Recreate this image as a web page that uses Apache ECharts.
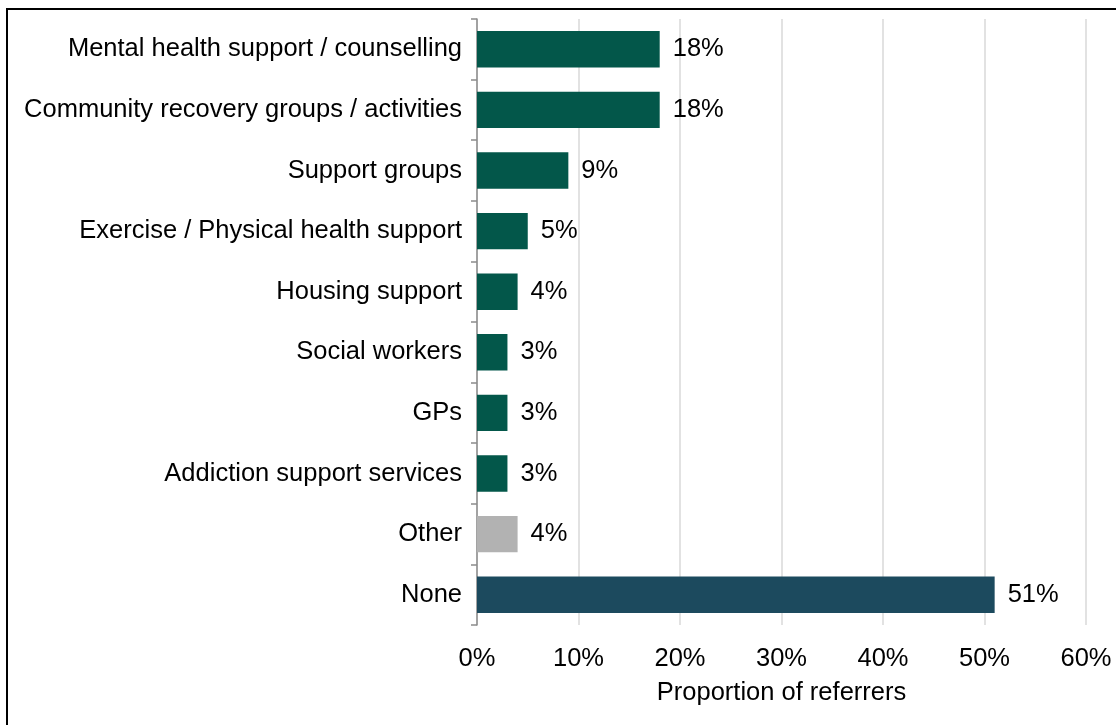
<!DOCTYPE html>
<html>
<head>
<meta charset="utf-8">
<script src="https://cdn.jsdelivr.net/npm/echarts@6/dist/echarts.min.js"></script>
<style>
  html, body { margin: 0; padding: 0; background: #ffffff; }
  #chart { width: 1116px; height: 725px; }
</style>
</head>
<body>
<div id="chart"></div>
<script>
// Services that referrers signposted people to, share of referrers (%)
const categories = [
  'Mental health support / counselling',
  'Community recovery groups / activities',
  'Support groups',
  'Exercise / Physical health support',
  'Housing support',
  'Social workers',
  'GPs',
  'Addiction support services',
  'Other',
  'None'
];
const values = [18, 18, 9, 5, 4, 3, 3, 3, 4, 51];
const barColors = ['#03574A', '#03574A', '#03574A', '#03574A', '#03574A',
                   '#03574A', '#03574A', '#03574A', '#B2B2B2', '#1C4A5E'];
const axisTitle = 'Proportion of referrers';

const font = '"Liberation Sans", Arial, sans-serif';
const fs = 25.5;
const chart = echarts.init(document.getElementById('chart'), null, { renderer: 'canvas' });

chart.setOption({
  animation: false,
  backgroundColor: '#ffffff',
  textStyle: { fontFamily: font },
  graphic: [{
    type: 'rect',
    shape: { x: 7, y: 9, width: 1200, height: 800 },
    style: { fill: 'none', stroke: '#000000', lineWidth: 2 },
    silent: true
  }],
  grid: { left: 477, right: 30, top: 19, bottom: 100, containLabel: false },
  xAxis: {
    type: 'value',
    min: 0,
    max: 60,
    interval: 10,
    name: axisTitle,
    nameLocation: 'middle',
    nameGap: 55,
    nameTextStyle: { fontSize: fs, color: '#000000', fontFamily: font },
    axisLine: { show: false },
    axisTick: { show: false },
    axisLabel: { formatter: '{value}%', fontSize: fs, color: '#000000', margin: 21, fontFamily: font },
    splitLine: { lineStyle: { color: '#D9D9D9', width: 1.5 } }
  },
  yAxis: {
    type: 'category',
    inverse: true,
    data: categories,
    axisLine: { show: true, lineStyle: { color: '#8C8C8C', width: 1.5 } },
    axisTick: { show: true, length: 6, lineStyle: { color: '#8C8C8C', width: 1.5 } },
    axisLabel: { fontSize: fs, color: '#000000', margin: 15, fontFamily: font, padding: [3, 0, 0, 0] },
    splitLine: { show: false }
  },
  series: [{
    type: 'bar',
    data: values.map((v, i) => ({ value: v, itemStyle: { color: barColors[i] } })),
    barCategoryGap: '40%',
    label: {
      show: true,
      position: 'right',
      distance: 13,
      formatter: p => p.value + '%',
      fontSize: fs,
      color: '#000000',
      fontFamily: font,
      padding: [3, 0, 0, 0]
    }
  }]
});
</script>
</body>
</html>
